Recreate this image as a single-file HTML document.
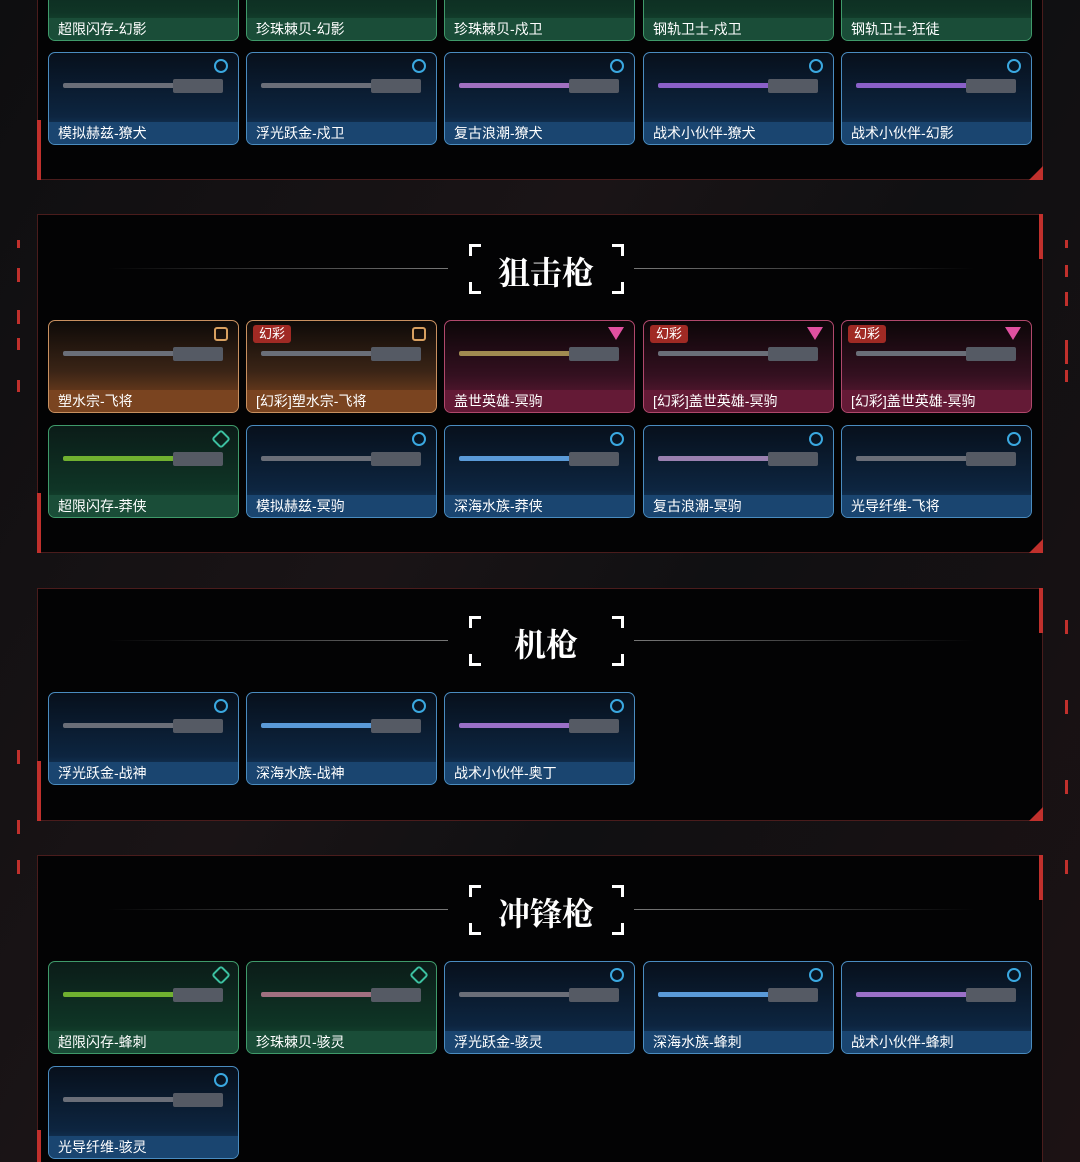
<!DOCTYPE html><html><head><meta charset="utf-8"><style>
*{margin:0;padding:0;box-sizing:border-box}
html{width:1080px;height:1162px;overflow:hidden}
body{width:1080px;height:1162px;overflow:hidden;background:#121214;position:relative;font-family:"Liberation Sans","Noto Sans CJK SC",sans-serif}
.bgs{position:absolute;inset:0;background:linear-gradient(120deg,#0e0e10 0%,#1a1416 40%,#101012 60%,#1c1214 100%)}
.box{position:absolute;left:37px;width:1006px;background:#030304;border:1px solid #4a1c1c}
.lb{position:absolute;left:-1px;bottom:-1px;width:4px;height:60px;background:#c0302c}
.rb{position:absolute;right:-1px;top:-1px;width:4px;height:45px;background:#c0302c}
.tri{position:absolute;right:-1px;bottom:-1px;width:0;height:0;border-left:14px solid transparent;border-bottom:14px solid #c0302c}
.title{position:absolute;left:0;width:1006px;height:50px}
.title .ln{position:absolute;top:24px;height:1px;width:340px}
.title .l1{left:70px;background:linear-gradient(90deg,transparent,#777)}
.title .l2{left:596px;background:linear-gradient(90deg,#777,transparent)}
.title .t{position:absolute;left:430px;width:156px;text-align:center;top:4px;color:#fff;font-size:32px;font-weight:bold;font-family:"Liberation Serif","Noto Serif CJK SC",serif}
.br{position:absolute;width:12px;height:12px;border-color:#fff;border-style:solid}
.card{position:absolute;width:191px;height:93px;border-radius:7px;border:1.5px solid;overflow:hidden}
.card .lab{position:absolute;left:0;right:0;bottom:0;height:22px;color:#fff;font-size:14px;line-height:22px;padding-left:9px}
.g{border-color:#3f9a6a;background:linear-gradient(#0b1c18,#0f3526 70%,#1c5a3c)}
.g .lab{background:#1a4d38}
.b{border-color:#4a8cc0;background:linear-gradient(#07101c,#0d2540 70%,#1b4a78)}
.b .lab{background:#1a4570}
.o{border-color:#c89060;background:linear-gradient(#0e0a08,#3a2416 55%,#8a4a20)}
.o .lab{background:#7a4420}
.p{border-color:#b0486c;background:linear-gradient(#0c0608,#341020 60%,#6c1c3a)}
.p .lab{background:#641a36}
.ic{position:absolute;right:10px;top:6px;width:14px;height:14px;border-radius:50%;border:2.5px solid #3aa8e0}
.g .ic{border-color:#3cc0a0;border-radius:3px;transform:rotate(45deg)}
.o .ic{border-color:#d8a060;border-radius:3px}
.p .ic{border:none;border-radius:0;width:0;height:0;border-left:8px solid transparent;border-right:8px solid transparent;border-top:13px solid #e050a0}
.gun{position:absolute;left:14px;top:30px;width:160px;height:5px;background:#6a6e78;border-radius:2px}
.gun:after{content:"";position:absolute;right:0;top:-4px;width:50px;height:14px;background:#555a64;border-radius:2px}
.tag{position:absolute;left:6px;top:4px;background:#a02a24;color:#fff;font-size:13px;padding:0 6px;line-height:18px;border-radius:3px}
.dash{position:absolute;width:3px;background:#c0302c}
</style></head><body><div class="bgs"></div>

<div class="dash" style="left:17px;top:240px;height:8px"></div><div class="dash" style="left:17px;top:268px;height:14px"></div><div class="dash" style="left:17px;top:310px;height:14px"></div><div class="dash" style="left:17px;top:338px;height:12px"></div><div class="dash" style="left:17px;top:380px;height:12px"></div>
<div class="dash" style="left:17px;top:750px;height:14px"></div><div class="dash" style="left:17px;top:820px;height:14px"></div><div class="dash" style="left:17px;top:860px;height:14px"></div>
<div class="dash" style="left:1065px;top:240px;height:8px"></div><div class="dash" style="left:1065px;top:265px;height:12px"></div><div class="dash" style="left:1065px;top:292px;height:14px"></div><div class="dash" style="left:1065px;top:340px;height:24px"></div><div class="dash" style="left:1065px;top:370px;height:12px"></div>
<div class="dash" style="left:1065px;top:620px;height:14px"></div><div class="dash" style="left:1065px;top:700px;height:14px"></div><div class="dash" style="left:1065px;top:780px;height:14px"></div><div class="dash" style="left:1065px;top:860px;height:14px"></div>

<!-- section 1 -->
<div class="box" style="top:-20px;height:200px"><div class="lb"></div><div class="tri"></div></div>
<div class="card g" style="left:48px;top:-52px"><div class="lab">超限闪存-幻影</div></div>
<div class="card g" style="left:246px;top:-52px"><div class="lab">珍珠棘贝-幻影</div></div>
<div class="card g" style="left:444px;top:-52px"><div class="lab">珍珠棘贝-戍卫</div></div>
<div class="card g" style="left:643px;top:-52px"><div class="lab">钢轨卫士-戍卫</div></div>
<div class="card g" style="left:841px;top:-52px"><div class="lab">钢轨卫士-狂徒</div></div>
<div class="card b" style="left:48px;top:52px"><div class="ic"></div><div class="gun"></div><div class="lab">模拟赫兹-獠犬</div></div>
<div class="card b" style="left:246px;top:52px"><div class="ic"></div><div class="gun"></div><div class="lab">浮光跃金-戍卫</div></div>
<div class="card b" style="left:444px;top:52px"><div class="ic"></div><div class="gun" style="background:#a070c0"></div><div class="lab">复古浪潮-獠犬</div></div>
<div class="card b" style="left:643px;top:52px"><div class="ic"></div><div class="gun" style="background:#8a60c8"></div><div class="lab">战术小伙伴-獠犬</div></div>
<div class="card b" style="left:841px;top:52px"><div class="ic"></div><div class="gun" style="background:#8a60c8"></div><div class="lab">战术小伙伴-幻影</div></div>

<!-- section 2 -->
<div class="box" style="top:214px;height:339px"><div class="lb"></div><div class="rb"></div><div class="tri"></div>
<div class="title" style="top:29px"><div class="ln l1"></div><div class="ln l2"></div><div class="t">狙击枪</div>
<div class="br" style="left:431px;top:0;border-width:3px 0 0 3px"></div><div class="br" style="left:574px;top:0;border-width:3px 3px 0 0"></div><div class="br" style="left:431px;top:38px;border-width:0 0 3px 3px"></div><div class="br" style="left:574px;top:38px;border-width:0 3px 3px 0"></div></div></div>
<div class="card o" style="left:48px;top:320px"><div class="ic"></div><div class="gun"></div><div class="lab">塑水宗-飞将</div></div>
<div class="card o" style="left:246px;top:320px"><div class="tag">幻彩</div><div class="ic"></div><div class="gun"></div><div class="lab">[幻彩]塑水宗-飞将</div></div>
<div class="card p" style="left:444px;top:320px"><div class="ic"></div><div class="gun" style="background:#a08a50"></div><div class="lab">盖世英雄-冥驹</div></div>
<div class="card p" style="left:643px;top:320px"><div class="tag">幻彩</div><div class="ic"></div><div class="gun"></div><div class="lab">[幻彩]盖世英雄-冥驹</div></div>
<div class="card p" style="left:841px;top:320px"><div class="tag">幻彩</div><div class="ic"></div><div class="gun"></div><div class="lab">[幻彩]盖世英雄-冥驹</div></div>
<div class="card g" style="left:48px;top:425px"><div class="ic"></div><div class="gun" style="background:#70b030"></div><div class="lab">超限闪存-莽侠</div></div>
<div class="card b" style="left:246px;top:425px"><div class="ic"></div><div class="gun"></div><div class="lab">模拟赫兹-冥驹</div></div>
<div class="card b" style="left:444px;top:425px"><div class="ic"></div><div class="gun" style="background:#5a9ad8"></div><div class="lab">深海水族-莽侠</div></div>
<div class="card b" style="left:643px;top:425px"><div class="ic"></div><div class="gun" style="background:#9a80b0"></div><div class="lab">复古浪潮-冥驹</div></div>
<div class="card b" style="left:841px;top:425px"><div class="ic"></div><div class="gun"></div><div class="lab">光导纤维-飞将</div></div>

<!-- section 3 -->
<div class="box" style="top:588px;height:233px"><div class="lb"></div><div class="rb"></div><div class="tri"></div>
<div class="title" style="top:27px"><div class="ln l1"></div><div class="ln l2"></div><div class="t">机枪</div>
<div class="br" style="left:431px;top:0;border-width:3px 0 0 3px"></div><div class="br" style="left:574px;top:0;border-width:3px 3px 0 0"></div><div class="br" style="left:431px;top:38px;border-width:0 0 3px 3px"></div><div class="br" style="left:574px;top:38px;border-width:0 3px 3px 0"></div></div></div>
<div class="card b" style="left:48px;top:692px"><div class="ic"></div><div class="gun"></div><div class="lab">浮光跃金-战神</div></div>
<div class="card b" style="left:246px;top:692px"><div class="ic"></div><div class="gun" style="background:#5a9ad8"></div><div class="lab">深海水族-战神</div></div>
<div class="card b" style="left:444px;top:692px"><div class="ic"></div><div class="gun" style="background:#9a70c8"></div><div class="lab">战术小伙伴-奥丁</div></div>

<!-- section 4 -->
<div class="box" style="top:855px;height:320px"><div class="rb"></div>
<div class="title" style="top:29px"><div class="ln l1"></div><div class="ln l2"></div><div class="t">冲锋枪</div>
<div class="br" style="left:431px;top:0;border-width:3px 0 0 3px"></div><div class="br" style="left:574px;top:0;border-width:3px 3px 0 0"></div><div class="br" style="left:431px;top:38px;border-width:0 0 3px 3px"></div><div class="br" style="left:574px;top:38px;border-width:0 3px 3px 0"></div></div></div>
<div class="dash" style="left:37px;top:1130px;height:32px;width:4px"></div>
<div class="card g" style="left:48px;top:961px"><div class="ic"></div><div class="gun" style="background:#70b030"></div><div class="lab">超限闪存-蜂刺</div></div>
<div class="card g" style="left:246px;top:961px"><div class="ic"></div><div class="gun" style="background:#a07080"></div><div class="lab">珍珠棘贝-骇灵</div></div>
<div class="card b" style="left:444px;top:961px"><div class="ic"></div><div class="gun"></div><div class="lab">浮光跃金-骇灵</div></div>
<div class="card b" style="left:643px;top:961px"><div class="ic"></div><div class="gun" style="background:#5a9ad8"></div><div class="lab">深海水族-蜂刺</div></div>
<div class="card b" style="left:841px;top:961px"><div class="ic"></div><div class="gun" style="background:#9a70c8"></div><div class="lab">战术小伙伴-蜂刺</div></div>
<div class="card b" style="left:48px;top:1066px"><div class="ic"></div><div class="gun"></div><div class="lab">光导纤维-骇灵</div></div>
</body></html>
